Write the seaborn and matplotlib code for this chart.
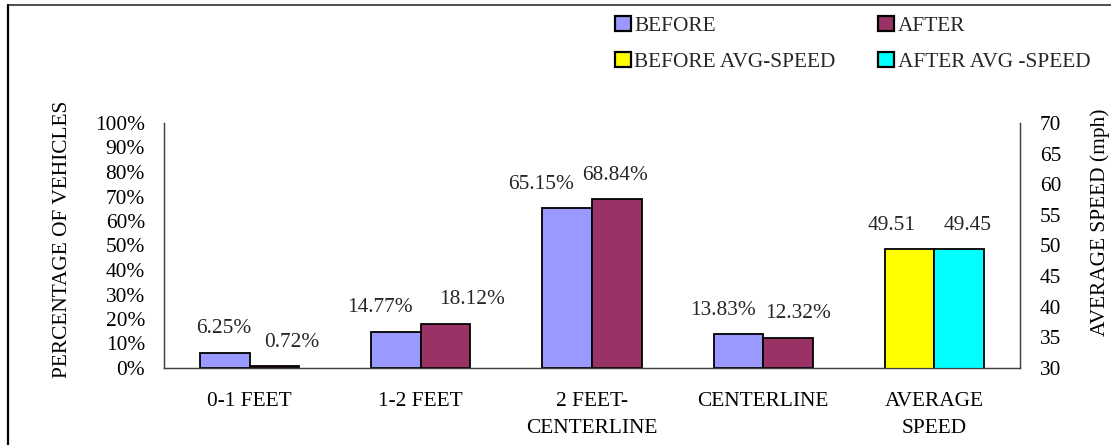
import matplotlib
matplotlib.use("Agg")
import matplotlib.pyplot as plt
from matplotlib.patches import Patch
from matplotlib.lines import Line2D
import seaborn as sns
import pandas as pd

# ---- data ----
categories = ["0-1 FEET", "1-2 FEET", "2 FEET-\nCENTERLINE", "CENTERLINE", "AVERAGE\nSPEED"]
pct_categories = ["0-1 FEET", "1-2 FEET", "2 FEET-\nCENTERLINE", "CENTERLINE"]
before_pct = [6.25, 14.77, 65.15, 13.83]
after_pct = [0.72, 18.12, 68.84, 12.32]
speed_category = ["AVERAGE\nSPEED"]
before_speed = [49.51]
after_speed = [49.45]
series = ["BEFORE", "AFTER"]
legend_labels = ["BEFORE", "AFTER", "BEFORE AVG-SPEED", "AFTER AVG -SPEED"]
left_ticks = [0, 10, 20, 30, 40, 50, 60, 70, 80, 90, 100]
left_ticklabels = ["0%", "10%", "20%", "30%", "40%", "50%", "60%", "70%", "80%", "90%", "100%"]
right_ticks = [30, 35, 40, 45, 50, 55, 60, 65, 70]

# horizontal nudges (pixels) of the value labels, as placed in the original
before_label_dx = [-1, -16, -26, -15]
after_label_dx = [17, 26, -2, 10]
speed_label_dx = [-18, 8]

col_before = "#9999FF"
col_after = "#993366"
col_before_spd = "#FFFF00"
col_after_spd = "#00FFFF"

sns.set_theme(style="white")
plt.rcParams["font.family"] = ["Liberation Serif", "DejaVu Serif"]
FS = 15.4
PX = 0.72  # points per pixel at dpi 100

pct_df = pd.DataFrame({
    "category": pct_categories * 2,
    "series": ["BEFORE"] * len(pct_categories) + ["AFTER"] * len(pct_categories),
    "value": before_pct + after_pct,
})
spd_df = pd.DataFrame({
    "category": speed_category * 2,
    "series": ["BEFORE"] * len(speed_category) + ["AFTER"] * len(speed_category),
    "value": before_speed + after_speed,
})

fig = plt.figure(figsize=(11.11, 4.45), dpi=100)
ax = fig.add_axes([164 / 1111, 1 - 368 / 445, (1020 - 164) / 1111, (368 - 123) / 445])

sns.barplot(data=pct_df, x="category", y="value", hue="series", order=categories,
            hue_order=series, palette=[col_before, col_after], width=0.58,
            edgecolor="black", linewidth=1.3, ax=ax, legend=False, saturation=1)
ax2 = ax.twinx()
sns.barplot(data=spd_df, x="category", y="value", hue="series", order=categories,
            hue_order=series, palette=[col_before_spd, col_after_spd], width=0.58,
            edgecolor="black", linewidth=1.3, ax=ax2, legend=False, saturation=1)

ax.set_ylim(0, 100)
ax2.set_ylim(30, 70)
ax.set_xlim(-0.5, len(categories) - 0.5)

ax.set_yticks(left_ticks)
ax.set_yticklabels(left_ticklabels)
ax2.set_yticks(right_ticks)
ax2.set_yticklabels([str(t) for t in right_ticks])

for a in (ax, ax2):
    a.tick_params(axis="both", length=0, labelsize=FS, colors="black")
    a.grid(False)
    a.set_xlabel("")
    a.set_ylabel("")
    a.spines["top"].set_visible(False)
    for s in ["left", "right", "bottom"]:
        a.spines[s].set_color("#404040")
        a.spines[s].set_linewidth(0.9)
ax.tick_params(axis="y", pad=19 * PX)
ax2.tick_params(axis="y", pad=20 * PX)
ax.tick_params(axis="x", pad=24 * PX)
ax2.tick_params(axis="x", labelbottom=False)
for t in ax.get_xticklabels():
    t.set_linespacing(1.6)

ax.set_ylabel("PERCENTAGE OF VEHICLES", fontsize=FS, color="black")
ax.yaxis.set_label_coords((72 - 164) / 856, 0.527)
ax2.set_ylabel("AVERAGE SPEED (mph)", fontsize=FS, color="black")
ax2.yaxis.set_label_coords((1090 - 164) / 856, 0.596)

# value labels
for cont, dxs in zip(ax.containers, [before_label_dx, after_label_dx]):
    for bar, dx in zip(cont, dxs):
        h = bar.get_height()
        ax.annotate(f"{h:.2f}%", (bar.get_x() + bar.get_width() / 2, h),
                    xytext=(dx * PX, 24 * PX), textcoords="offset points",
                    ha="center", va="center", fontsize=FS)
spd_bars = [b for cont in ax2.containers for b in cont if b.get_height() == b.get_height()]
for bar, dx in zip(spd_bars, speed_label_dx):
    h = bar.get_height()
    ax2.annotate(f"{h:.2f}", (bar.get_x() + bar.get_width() / 2, h),
                 xytext=(dx * PX, 23 * PX), textcoords="offset points",
                 ha="center", va="center", fontsize=FS)

handles = [
    Patch(facecolor=col_before, edgecolor="black", linewidth=1.6),
    Patch(facecolor=col_before_spd, edgecolor="black", linewidth=1.6),
    Patch(facecolor=col_after, edgecolor="black", linewidth=1.6),
    Patch(facecolor=col_after_spd, edgecolor="black", linewidth=1.6),
]
labels = [legend_labels[0], legend_labels[2], legend_labels[1], legend_labels[3]]
fig.legend(handles, labels, ncol=2, loc="upper left",
           bbox_to_anchor=(615 / 1111, 1 - 16 / 445), frameon=False,
           fontsize=FS, handlelength=0.75, handleheight=0.72, handletextpad=0.15,
           columnspacing=2.0, labelspacing=0.75, borderpad=0, borderaxespad=0)

# figure border (top and left)
fig.add_artist(Line2D([8 / 1111, 1], [1 - 5 / 445, 1 - 5 / 445], color="#303030",
                      linewidth=1.2, transform=fig.transFigure))
fig.add_artist(Line2D([8 / 1111, 8 / 1111], [0, 1 - 5 / 445], color="black",
                      linewidth=1.6, transform=fig.transFigure))

fig.savefig("out.png", dpi=100, facecolor="white")
